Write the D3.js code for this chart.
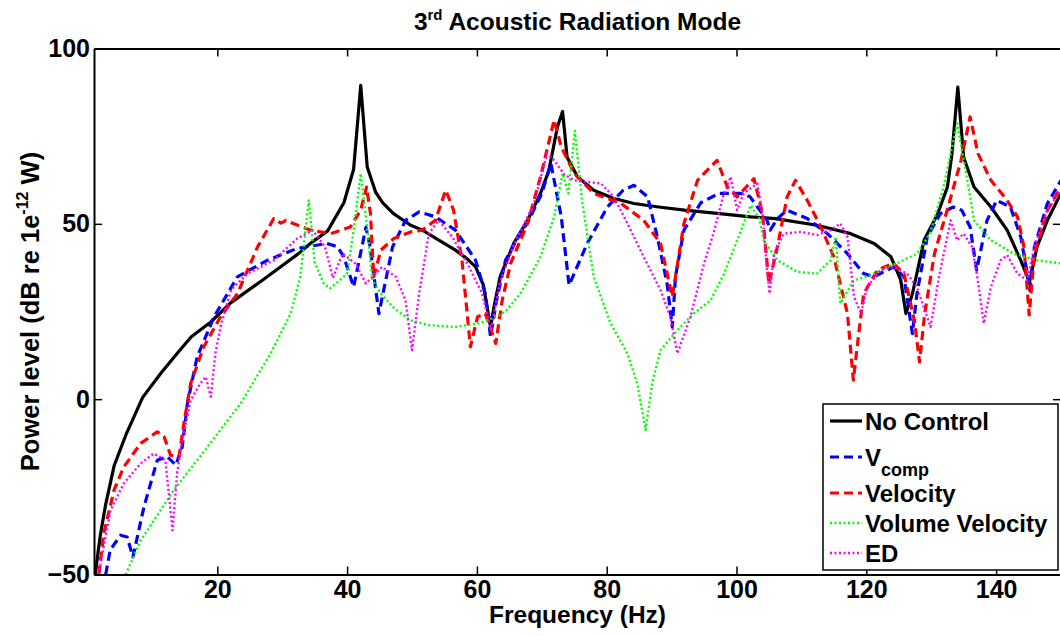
<!DOCTYPE html>
<html><head><meta charset="utf-8">
<script src="https://cdn.jsdelivr.net/npm/d3@7"></script>
<style>body{margin:0;background:#fff} svg{display:block} text{font-family:"Liberation Sans",Arial,sans-serif;font-weight:bold;fill:#000}</style>
</head><body><svg id="c" width="1060" height="636"></svg>
<script>
// Data: [frequency (Hz), power level (dB re 1e-12 W)]
const noControl = [[1.2,-50],[1.6,-44],[2.0,-38.5],[2.8,-30],[4.1,-19],[6.0,-9.8],[8.5,0.5],[11.3,7.4],[13.8,13],[16,17.8],[19,22],[22,27.4],[27,34],[32.5,41.5],[34.4,44.5],[37,48],[39.5,56],[41,65.5],[42.1,89.5],[43.1,66.2],[44.4,59],[45.5,56],[47.1,53],[49.8,49.6],[51.6,48.2],[54,45.5],[56.7,42.5],[58.5,40],[59.8,37.7],[61,32.5],[61.6,26],[62.1,20.6],[62.7,27],[63.6,35],[65.7,44.5],[67.8,51],[69.8,58.7],[71.1,65.3],[72.4,77.6],[73.2,82],[73.9,69],[75.5,63.4],[78,59.6],[81,57.3],[84.2,55.8],[88,54.8],[92,53.9],[97,53],[102.2,52],[106,51.5],[112.4,49.6],[117.6,47.2],[121.2,44.4],[123.8,40.6],[125.3,34],[126.1,24.4],[127.1,30],[128.9,45.3],[131,52.9],[132.5,60.5],[133.2,70],[134.1,89],[135,69],[136.6,60.5],[139.2,54.8],[141.7,48.2],[143.8,39.6],[144.8,35],[145.1,33],[146.3,43.4],[147.9,51],[150,58.7]];
const vComp = [[2.8,-50],[3.5,-43],[5.1,-38.8],[6.1,-39.3],[7.0,-45],[8.7,-30.7],[10.75,-17.4],[12.3,-16.4],[13.6,-18.8],[14.6,-13.6],[15.4,-1.2],[16.9,12.1],[19.5,23.5],[23.1,34.9],[27.7,39.6],[32.3,43],[36.9,44.4],[38.5,43.5],[39.5,40.6],[41.0,32],[42.9,49],[43.5,44],[44.9,24.4],[47,43.4],[49,51],[51.1,53.4],[53.6,52],[56.7,48.2],[59.8,39.6],[61.3,30],[62.1,17.8],[63,28],[64.4,39.6],[66,45],[68,51],[70,58.7],[71.4,67.2],[73.0,52],[74.2,32.5],[77,44.4],[80.1,54.8],[82.5,59.5],[84.2,61],[86.3,57.7],[87.8,46.3],[89.3,33],[90.1,20.6],[90.6,35],[91.9,48.2],[94.5,56],[97.3,58.7],[100.6,58.7],[102.1,57.7],[104.7,51],[105.2,48.2],[106.3,51.5],[107.8,53.9],[110.9,51.5],[114,47.2],[117.1,41.5],[119.6,35.8],[121.2,34.9],[123.2,36.8],[124.2,37.7],[125.8,34.9],[127.1,18.7],[127.8,30],[129.4,46.3],[131.4,52.9],[133.4,54.8],[134.7,53.9],[136,49.1],[137,36.8],[138.6,51],[140.1,56.7],[142.2,54.8],[143.8,46.3],[144.8,35.8],[145.2,31],[145.9,43.4],[147.9,55.8],[150,62.4]];
const velocity = [[1.75,-50],[2.5,-38.3],[4.1,-25.9],[5.6,-19.3],[8.2,-12.6],[10.75,-9.3],[11.8,-10.7],[12.8,-16],[14.1,-16.4],[14.85,-6.9],[15.9,4.5],[17.9,14.9],[20.5,23.5],[23.1,30.1],[26.2,43.4],[28.7,51.5],[29.8,50.2],[30.6,51],[31.8,50],[34.4,48.2],[37.5,47.2],[40.5,49.1],[42.1,53.9],[43.0,60.5],[43.6,52.9],[44.1,34.9],[45.2,42.5],[47.2,45.8],[49.8,47.7],[51.6,48.2],[53.6,51],[55.2,59.6],[56.4,53.9],[57.7,39.6],[58.5,24.4],[59.0,14.9],[60.1,23.5],[61.3,24.4],[62.9,15.9],[63.9,28.2],[65.2,38.7],[67.8,50.1],[69.8,63.4],[71.9,79.6],[73,71.9],[75,64.4],[78,58.7],[82.2,55.8],[85.7,51],[88.3,44.4],[90.1,29.2],[90.6,34.9],[91.9,50.1],[94,62.4],[95.5,65.3],[97,68.1],[98.6,60.5],[100.1,57.7],[102.7,62.9],[104,52.9],[105,33],[106.3,43.4],[107.8,57.7],[109.1,62.4],[110.9,56.7],[113,49.1],[115,40.6],[117.1,24.4],[118,5.4],[118.9,19.7],[119.6,30.1],[121.7,36.8],[123.5,38.2],[124.2,38.7],[125.8,35.8],[127.4,22.5],[128.2,10.6],[129,24.4],[130.5,41.5],[132.6,54.8],[134.6,68.1],[136,80.5],[137.2,70.1],[139.2,62.4],[141.7,56.7],[143.3,52],[144.3,43.4],[145.1,24],[145.9,41.5],[147.9,53.9],[150,60.5]];
const volumeVelocity = [[5.9,-50],[8.2,-40.3],[13.3,-25.9],[18.5,-13.6],[23.6,-1.2],[28.2,13],[31.3,24.4],[32.8,35],[34.1,56.7],[35.0,39],[36.4,33],[37.4,31.6],[40,35.8],[41,48.2],[42.1,64.4],[42.9,52],[43.9,33.9],[45.2,30.1],[47.3,25.8],[49.8,22.5],[52.6,21.1],[56.7,20.6],[60.3,21.6],[62.9,23.5],[64.4,25],[66.7,30.1],[69.8,40.6],[71.9,52],[73.2,64.4],[74.1,58.7],[75.1,76.5],[76.2,56.7],[78,34.9],[80.6,21.6],[83.2,13],[84.7,4.5],[86.0,-8.8],[87,4.5],[88.3,14],[90.9,19.7],[93.4,24.4],[96,28.2],[98.1,35.8],[100.1,45.3],[102.2,55.3],[103.5,51.5],[104.2,45.3],[106.3,39.6],[109.4,36.3],[112.4,35.8],[114.5,39.6],[115.3,46.3],[116,27.3],[118.1,33.9],[120.6,35.3],[123.2,37.7],[124.7,38.7],[127.8,41.5],[129.8,47.2],[131.9,60.5],[134,78.6],[135.3,65.3],[136.6,51],[139.2,45.3],[142.7,41.5],[146.3,39.6],[150,38.7]];
const ed = [[1.7,-50],[2.3,-44],[3.55,-31.7],[5.6,-24],[8.2,-18.3],[10.2,-15.5],[12.0,-17.4],[13.1,-37.4],[13.8,-21.2],[14.6,-11.7],[15.9,-0.3],[17.4,4.5],[18.2,6.4],[19.0,0.7],[19.7,13],[20.5,20.6],[22.1,31.1],[24.6,35.8],[28.7,39.6],[32.3,45.8],[34.7,48.2],[36.6,43.4],[37.8,34.6],[39.3,41.5],[41.3,38.7],[42.9,33],[45.4,37.7],[47.5,34.9],[49,28.2],[50,14],[51.1,30.1],[52.6,47.2],[54.1,51],[56.2,46.3],[58.8,37.7],[60.8,30.1],[61.8,22.5],[62.2,20],[63.5,33],[65.7,44],[68.8,55.8],[70.8,70.1],[71.9,68.1],[73.5,64],[75,62.4],[79.1,61.5],[81.1,57.7],[83.2,50.1],[85.7,40.6],[88.3,31.1],[89.8,23.5],[90.9,13],[92.9,23.5],[95,38.7],[96.6,48.2],[97.9,57.7],[99.1,63.4],[100.1,53.9],[101.1,58.7],[103.2,61.5],[104,52.9],[104.7,36.8],[105.1,30.1],[105.8,41.5],[107.3,47.2],[109.9,47.7],[112.4,46.8],[114.5,48.2],[116,50.1],[117.1,46.3],[118.1,29.2],[119.2,24.4],[120.1,32],[122.2,36.8],[124.2,37.7],[126.3,35.8],[127.8,32],[129.9,20.6],[131.2,34.9],[133,51],[134,45.3],[135,47.2],[136.3,43.4],[137.1,34.9],[138.1,21.6],[139.2,32],[140.7,39.6],[141.7,41.1],[143.3,35.8],[144.8,33.9],[145.9,43.4],[147.9,53.9],[150,59.6]];

const xTicks = [20,40,60,80,100,120,140];
const yTicks = [-50,0,50,100];
const xDomain = [1,150];
const yDomain = [-50,100];

const series = [
  {name:"No Control", sub:null, data:noControl, color:"#000000", width:3.2, dash:null},
  {name:"V", sub:"comp", data:vComp, color:"#0000ff", width:3.2, dash:"9,5"},
  {name:"Velocity", sub:null, data:velocity, color:"#ff0000", width:3.2, dash:"9,5"},
  {name:"Volume Velocity", sub:null, data:volumeVelocity, color:"#00ff00", width:2.4, dash:"2,2.5"},
  {name:"ED", sub:null, data:ed, color:"#ff00ff", width:2.4, dash:"2,2.5"}
];

const svg = d3.select("#c");
const L=94, R=1061, T=48.5, B=574.5;
const x = d3.scaleLinear().domain(xDomain).range([L,R]);
const y = d3.scaleLinear().domain(yDomain).range([B,T]);

svg.append("defs").append("clipPath").attr("id","clip")
  .append("rect").attr("x",L).attr("y",T).attr("width",R-L).attr("height",B-T);

const line = d3.line().x(d=>x(d[0])).y(d=>y(d[1]));
const g = svg.append("g").attr("clip-path","url(#clip)");
series.forEach(s=>{
  g.append("path").attr("d",line(s.data)).attr("fill","none")
   .attr("stroke",s.color).attr("stroke-width",s.width)
   .attr("stroke-dasharray",s.dash).attr("stroke-linejoin","round");
});

function styleAxis(sel){
  sel.selectAll("path").attr("stroke","#000").attr("stroke-width",2);
  sel.selectAll("line").attr("stroke","#000").attr("stroke-width",1.5);
  sel.selectAll("text").style("font-family","'Liberation Sans',Arial,sans-serif").style("font-weight","bold").style("font-size","25px").attr("fill","#000");
}
styleAxis(svg.append("g").attr("transform",`translate(0,${B})`)
  .call(d3.axisBottom(x).tickValues(xTicks).tickSizeInner(-8).tickSizeOuter(0).tickPadding(6)));
styleAxis(svg.append("g").attr("transform",`translate(0,${T})`)
  .call(d3.axisTop(x).tickValues(xTicks).tickSizeInner(-8).tickSizeOuter(0).tickFormat("")));
styleAxis(svg.append("g").attr("transform",`translate(${L},0)`)
  .call(d3.axisLeft(y).tickValues(yTicks).tickSizeInner(-8).tickSizeOuter(0).tickPadding(4)));
styleAxis(svg.append("g").attr("transform",`translate(${R},0)`)
  .call(d3.axisRight(y).tickValues(yTicks).tickSizeInner(-8).tickSizeOuter(0).tickFormat("")));

// Title
const title = svg.append("text").attr("x",(L+R)/2).attr("y",30).attr("text-anchor","middle").style("font-size","24.5px");
title.append("tspan").text("3");
title.append("tspan").text("rd").style("font-size","15px").attr("dy",-10);
title.append("tspan").text(" Acoustic Radiation Mode").attr("dy",10);

// X label
svg.append("text").attr("x",(L+R)/2).attr("y",623).attr("text-anchor","middle").style("font-size","24.5px").text("Frequency (Hz)");

// Y label
const yl = svg.append("text").attr("transform",`translate(39,${(T+B)/2}) rotate(-90)`).attr("text-anchor","middle").style("font-size","25.5px");
yl.append("tspan").text("Power level (dB re 1e");
yl.append("tspan").text("-12").style("font-size","16px").attr("dy",-11);
yl.append("tspan").text(" W)").attr("dy",11);

// Legend
const lg = svg.append("g");
lg.append("rect").attr("x",823).attr("y",404).attr("width",235).attr("height",166)
  .attr("fill","#fff").attr("stroke","#000").attr("stroke-width",1.5);
const rowY = [421,457,493,523,553];
series.forEach((s,i)=>{
  lg.append("line").attr("x1",830).attr("x2",862).attr("y1",rowY[i]).attr("y2",rowY[i])
    .attr("stroke",s.color).attr("stroke-width",s.width).attr("stroke-dasharray",s.dash);
  const t = lg.append("text").attr("x",865).attr("y",rowY[i]+8.5).style("font-size","24px");
  t.append("tspan").text(s.name);
  if(s.sub){ t.append("tspan").text(s.sub).attr("dy",10).style("font-size","18px"); }
});
</script></body></html>
